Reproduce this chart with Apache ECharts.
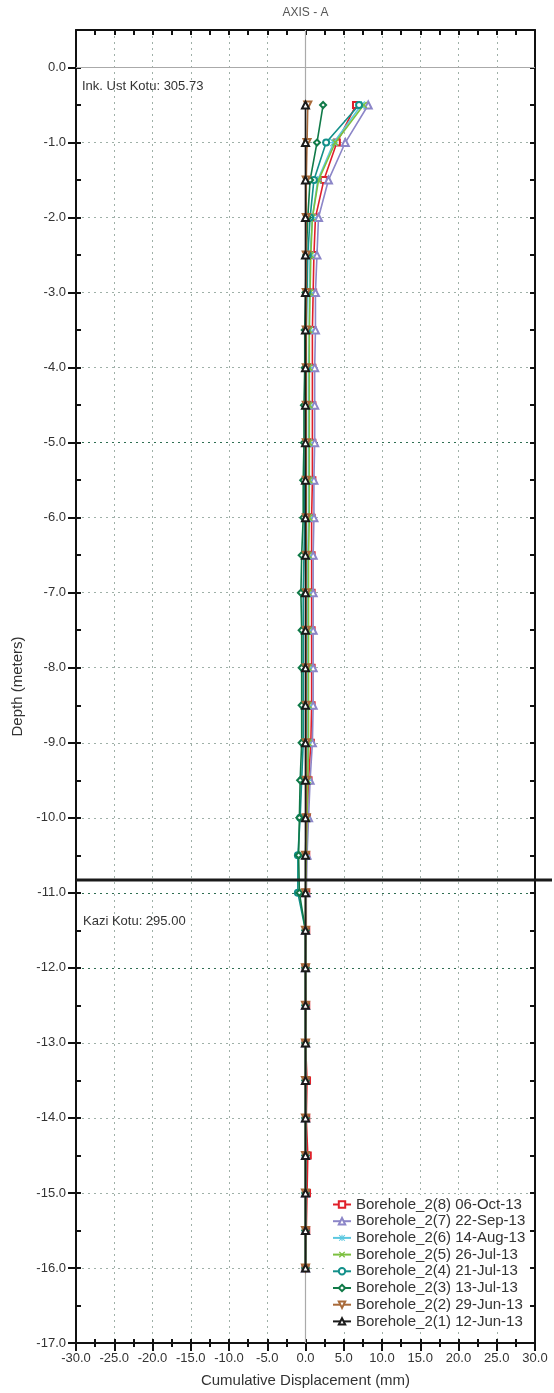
<!DOCTYPE html>
<html>
<head>
<meta charset="utf-8">
<title>Axis - A</title>
<script src="https://cdn.jsdelivr.net/npm/echarts@6/dist/echarts.min.js"></script>
<style>
  html, body { margin: 0; padding: 0; background: #fff; }
  #main { width: 554px; height: 1393px; }
</style>
</head>
<body>
<div id="main"></div>
<script>
// depth of each reading (m)
var depths = [-0.5, -1.0, -1.5, -2.0, -2.5, -3.0, -3.5, -4.0, -4.5, -5.0,
              -5.5, -6.0, -6.5, -7.0, -7.5, -8.0, -8.5, -9.0, -9.5, -10.0,
              -10.5, -11.0, -11.5, -12.0, -12.5, -13.0, -13.5, -14.0, -14.5, -15.0,
              -15.5, -16.0];

// cumulative displacement (mm), one value per depth
var bh8 = [6.6, 4.1, 2.4, 1.3, 1.1, 1.0, 0.9, 0.9, 0.9, 0.9, 0.9, 0.8, 0.8, 0.8, 0.8, 0.8,
           0.8, 0.7, 0.4, 0.2, 0.1, 0.1, 0.1, 0.0, 0.1, 0.0, 0.2, 0.1, 0.3, 0.2, 0.1, 0.0];
var bh7 = [8.2, 5.2, 3.0, 1.7, 1.5, 1.3, 1.3, 1.2, 1.2, 1.2, 1.1, 1.1, 1.0, 1.0, 1.0, 1.0,
           1.0, 0.9, 0.6, 0.4, 0.2, 0.1, 0.0, 0.0, 0.0, 0.0, 0.0, 0.0, 0.0, 0.0, 0.0, 0.0];
var bh6 = [7.3, 3.7, 1.6, 0.9, 0.6, 0.5, 0.5, 0.4, 0.4, 0.4, 0.4, 0.4, 0.3, 0.3, 0.3, 0.3,
           0.3, 0.3, 0.2, 0.1, 0.0, 0.0, 0.0, 0.0, 0.0, 0.0, 0.0, 0.0, 0.0, 0.0, 0.0, 0.0];
var bh5 = [7.6, 3.9, 1.7, 0.9, 0.7, 0.6, 0.5, 0.5, 0.5, 0.5, 0.5, 0.5, 0.4, 0.4, 0.4, 0.4,
           0.4, 0.4, 0.3, 0.2, 0.1, 0.0, 0.0, 0.0, 0.0, 0.0, 0.0, 0.0, 0.0, 0.0, 0.0, 0.0];
var bh4 = [7.0, 2.7, 1.1, 0.6, 0.3, 0.2, 0.1, 0.1, 0.0, 0.0, -0.1, -0.1, -0.2, -0.3, -0.3, -0.3,
           -0.3, -0.3, -0.5, -0.7, -1.0, -1.0, 0.0, 0.0, 0.0, 0.0, 0.0, 0.0, 0.0, 0.0, 0.0, 0.0];
var bh3 = [2.3, 1.5, 0.6, 0.3, 0.1, 0.0, -0.1, -0.1, -0.2, -0.2, -0.3, -0.3, -0.5, -0.6, -0.5, -0.5,
           -0.5, -0.5, -0.7, -0.8, -0.9, -0.8, 0.0, 0.0, 0.0, 0.0, 0.0, 0.0, 0.0, 0.0, 0.0, 0.0];
var bh2 = [0.3, 0.2, 0.1, 0.1, 0.1, 0.1, 0.1, 0.1, 0.1, 0.1, 0.1, 0.1, 0.1, 0.1, 0.1, 0.1,
           0.1, 0.1, 0.1, 0.1, 0.0, 0.0, 0.0, 0.0, 0.0, 0.0, 0.0, 0.0, 0.0, 0.0, 0.0, 0.0];
var bh1 = [0.0, 0.0, 0.0, 0.0, 0.0, 0.0, 0.0, 0.0, 0.0, 0.0, 0.0, 0.0, 0.0, 0.0, 0.0, 0.0,
           0.0, 0.0, 0.0, 0.0, 0.0, 0.0, 0.0, 0.0, 0.0, 0.0, 0.0, 0.0, 0.0, 0.0, 0.0, 0.0];

var names = ['Borehole_2(8) 06-Oct-13', 'Borehole_2(7) 22-Sep-13', 'Borehole_2(6) 14-Aug-13',
             'Borehole_2(5) 26-Jul-13', 'Borehole_2(4) 21-Jul-13', 'Borehole_2(3) 13-Jul-13',
             'Borehole_2(2) 29-Jun-13', 'Borehole_2(1) 12-Jun-13'];

var topLevel = 305.73;      // Ink. Ust Kotu
var excavLevel = 295.00;    // Kazi Kotu
var excavDepth = -10.83;    // line drawn on the chart

var FONT = 'Liberation Sans, Arial, sans-serif';

// filled x and asterisk markers
var crossSym = 'path://M0,1.5L1.5,0L10,8.5L8.5,10ZM8.5,0L10,1.5L1.5,10L0,8.5Z';
var starSym = 'path://M4.2,0h1.6v10h-1.6ZM0,4.2h10v1.6h-10Z' +
              'M1.1,0L10,8.9L8.9,10L0,1.1ZM8.9,0L10,1.1L1.1,10L0,8.9Z';

var styles = [
    { data: bh8, color: '#e0202a', symbol: 'emptyRect', size: 6 },
    { data: bh7, color: '#8c86c8', symbol: 'emptyTriangle', size: 7 },
    { data: bh6, color: '#5cc8e0', symbol: starSym, size: 8 },
    { data: bh5, color: '#7cc040', symbol: crossSym, size: 7 },
    { data: bh4, color: '#13908a', symbol: 'emptyCircle', size: 6 },
    { data: bh3, color: '#107a48', symbol: 'emptyDiamond', size: 6 },
    { data: bh2, color: '#a86a3a', symbol: 'emptyTriangle', size: 7, rotate: 180 },
    { data: bh1, color: '#1a1a1a', symbol: 'emptyTriangle', size: 7 }
];

function pairs(vals) {
    var out = [];
    for (var i = 0; i < vals.length; i++) out.push([vals[i], depths[i]]);
    return out;
}

var series = styles.map(function (s, i) {
    var ser = {
        name: names[i],
        type: 'line',
        xAxisIndex: 0,
        yAxisIndex: 0,
        data: pairs(s.data),
        symbol: s.symbol,
        symbolSize: s.size,
        symbolRotate: s.rotate || 0,
        showAllSymbol: true,
        lineStyle: { color: s.color, width: 1.6 },
        itemStyle: { color: s.color },
        animation: false,
        z: 3 + i
    };
    if (i === 0) {
        ser.markLine = {
            silent: true,
            symbol: 'none',
            label: { show: false },
            lineStyle: { color: '#aaaaaa', type: 'solid', width: 1.2 },
            data: [{ xAxis: 0 }, { yAxis: 0 }],
            z: 1
        };
    }
    return ser;
});

// darker dotted rows, as in the original print
var darkRows = [-5, -11, -12];
var rowColors = [];
for (var d = -17; d <= 0.5; d += 1) {
    rowColors.push(darkRows.indexOf(d) >= 0 ? '#2f6e52' : '#9fb0a8');
}

var gridBox = { left: 76, right: 19, top: 30, bottom: 50 };

var myChart = echarts.init(document.getElementById('main'));

var option = {
    backgroundColor: '#fff',
    textStyle: { fontFamily: FONT },
    grid: [
        Object.assign({ show: false }, gridBox),
        Object.assign({ show: false }, gridBox)
    ],
    legend: {
        orient: 'vertical',
        left: 328,
        top: 1195,
        data: names,
        itemWidth: 18,
        itemHeight: 8,
        itemGap: 1.7,
        padding: [2, 4, 2, 4],
        backgroundColor: '#fff',
        textStyle: { fontSize: 15, color: '#333', fontFamily: FONT }
    },
    xAxis: [
        {
            type: 'value', gridIndex: 0, position: 'bottom',
            min: -30, max: 30, interval: 5,
            name: 'Cumulative Displacement (mm)',
            nameLocation: 'middle', nameGap: 30,
            nameTextStyle: { fontSize: 15, color: '#333', fontFamily: FONT },
            axisLine: { onZero: false, lineStyle: { color: '#111', width: 2 } },
            axisTick: { show: true, inside: false, length: 8, lineStyle: { color: '#111', width: 2 } },
            minorTick: { show: true, splitNumber: 2, length: 4, lineStyle: { color: '#111', width: 2 } },
            axisLabel: { fontSize: 13, color: '#333', margin: 9, formatter: function (v) { return v.toFixed(1); } },
            splitLine: { show: true, lineStyle: { color: '#9fb0a8', type: [2, 4], width: 1 } }
        },
        {
            type: 'value', gridIndex: 1, position: 'bottom',
            min: -30, max: 30, interval: 2.5,
            axisLine: { show: false, onZero: false },
            axisTick: { show: true, inside: true, length: 4, lineStyle: { color: '#111', width: 2 } },
            axisLabel: { show: false },
            splitLine: { show: false }
        },
        {
            type: 'value', gridIndex: 1, position: 'top',
            min: -30, max: 30, interval: 2.5,
            axisLine: { show: true, onZero: false, lineStyle: { color: '#111', width: 2 } },
            axisTick: { show: true, inside: true, length: 5, lineStyle: { color: '#111', width: 2 } },
            axisLabel: { show: false },
            splitLine: { show: false }
        }
    ],
    yAxis: [
        {
            type: 'value', gridIndex: 0, position: 'left',
            min: -17, max: 0.5, interval: 1,
            name: 'Depth (meters)',
            nameLocation: 'middle', nameGap: 50,
            nameTextStyle: { fontSize: 15, color: '#333', fontFamily: FONT },
            axisLine: { onZero: false, lineStyle: { color: '#111', width: 2 } },
            axisTick: { show: true, inside: false, length: 8, lineStyle: { color: '#111', width: 2 } },
            axisLabel: {
                fontSize: 13, color: '#333', margin: 10, showMaxLabel: false,
                formatter: function (v) { return v > 0 ? '' : v.toFixed(1); }
            },
            splitLine: { show: true, lineStyle: { color: rowColors, type: [2, 4], width: 1 } }
        },
        {
            type: 'value', gridIndex: 1, position: 'left',
            min: -17, max: 0.5, interval: 0.5,
            axisLine: { show: false, onZero: false },
            axisTick: { show: true, inside: true, length: 5, lineStyle: { color: '#111', width: 2 } },
            axisLabel: { show: false },
            splitLine: { show: false }
        },
        {
            type: 'value', gridIndex: 1, position: 'right',
            min: -17, max: 0.5, interval: 0.5,
            axisLine: { show: true, onZero: false, lineStyle: { color: '#111', width: 2 } },
            axisTick: { show: true, inside: true, length: 5, lineStyle: { color: '#111', width: 2 } },
            axisLabel: { show: false },
            splitLine: { show: false }
        }
    ],
    series: series
};

myChart.setOption(option);

// annotations: title, level labels and the excavation line
var pLeft = myChart.convertToPixel({ xAxisIndex: 0, yAxisIndex: 0 }, [-30, excavDepth]);
var pMid = myChart.convertToPixel({ xAxisIndex: 0, yAxisIndex: 0 }, [0, 0]);
var pTopL = myChart.convertToPixel({ xAxisIndex: 0, yAxisIndex: 0 }, [-30, 0]);
var pKazi = myChart.convertToPixel({ xAxisIndex: 0, yAxisIndex: 0 }, [-30, -11.0]);

myChart.setOption({
    graphic: [
        {
            type: 'text', x: pMid[0], y: 7, z: 20,
            style: { text: 'AXIS - A', fill: '#555', align: 'center', font: '12px ' + FONT }
        },
        {
            type: 'text', x: pTopL[0] + 6, y: pTopL[1] + 19, z: 20,
            style: { text: 'Ink. Ust Kotu: ' + topLevel.toFixed(2), fill: '#333', font: '13px ' + FONT, verticalAlign: 'middle' }
        },
        {
            type: 'text', x: pKazi[0] + 7, y: pKazi[1] + 29, z: 20,
            style: { text: 'Kazi Kotu: ' + excavLevel.toFixed(2), fill: '#333', font: '13px ' + FONT, verticalAlign: 'middle' }
        },
        {
            type: 'line', z: 20,
            shape: { x1: pLeft[0], y1: pLeft[1], x2: myChart.getWidth() - 2, y2: pLeft[1] },
            style: { stroke: '#1a1a1a', lineWidth: 3 }
        }
    ]
});
</script>
</body>
</html>
